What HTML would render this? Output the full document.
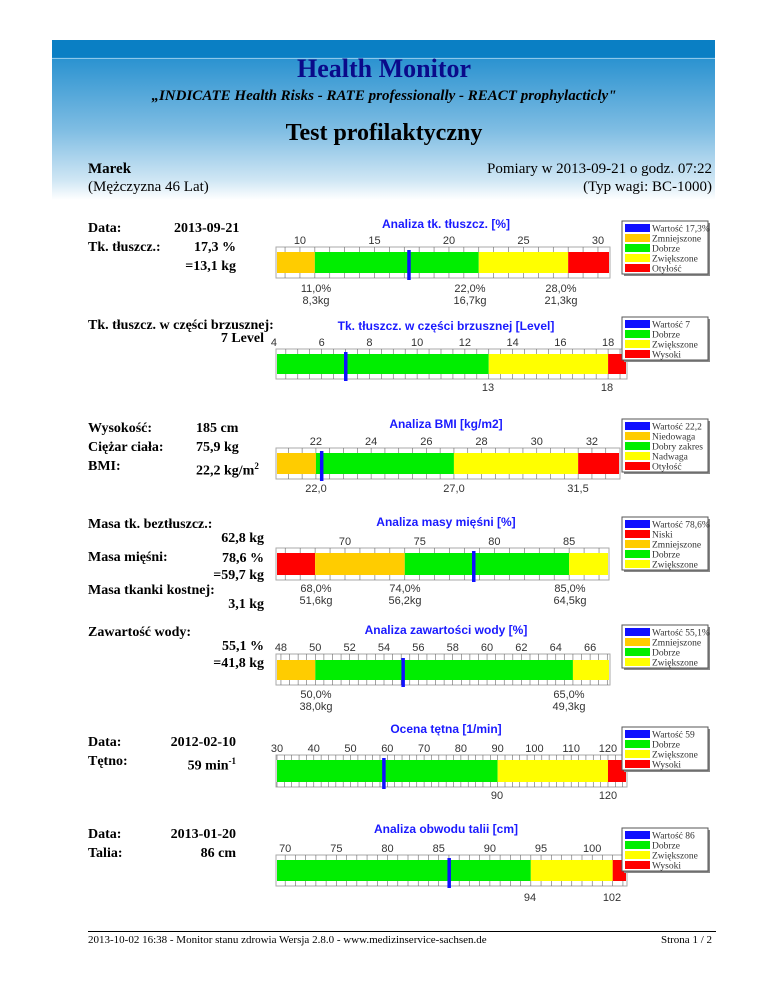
<!DOCTYPE html>
<html><head><meta charset="utf-8"><style>
body{margin:0;width:768px;height:994px;position:relative;background:#fff;font-family:"Liberation Serif",serif;overflow:hidden}
.a{position:absolute;white-space:nowrap}
.b{font-weight:bold;font-size:14px}
.n{font-size:14px}
svg{position:absolute;left:0;top:0}
</style></head><body>
<div class="a" style="left:52px;top:40px;width:663px;height:160px;background:linear-gradient(#0a7fc4 0,#0a7fc4 17px,#2a92d0 18px,#7fbde3 90px,#cfe6f4 140px,#fff 160px)"></div>
<div class="a" style="left:52px;top:58px;width:663px;height:1px;background:#8cc8ea"></div>
<div class="a b" style="left:0;width:768px;text-align:center;top:54px;font-size:26px;color:#0a0a8a">Health Monitor</div>
<div class="a" style="left:0;width:768px;text-align:center;top:88px;font-size:15px;font-weight:bold;font-style:italic">„INDICATE Health Risks - RATE professionally - REACT prophylacticly"</div>
<div class="a b" style="left:0;width:768px;text-align:center;top:120px;font-size:24px">Test profilaktyczny</div>
<div class="a b" style="left:88px;top:161px;font-size:15px">Marek</div>
<div class="a n" style="left:88px;top:179px;font-size:15px">(Mężczyzna 46 Lat)</div>
<div class="a n" style="right:56px;top:161px;font-size:15px">Pomiary w 2013-09-21 o godz. 07:22</div>
<div class="a n" style="right:56px;top:179px;font-size:15px">(Typ wagi: BC-1000)</div>

<div class="a b" style="left:88px;top:219px;line-height:19px">Data:<br>Tk. tłuszcz.:</div>
<div class="a b" style="left:174px;top:219px;text-align:right;width:62px;line-height:19px">2013-09-21<br>17,3 %<br>=13,1 kg</div>
<div class="a b" style="left:88px;top:318px">Tk. tłuszcz. w części brzusznej:</div>
<div class="a b" style="left:190px;top:331px;width:74px;text-align:right">7 Level</div>
<div class="a b" style="left:88px;top:419px;line-height:19px">Wysokość:<br>Ciężar ciała:<br>BMI:</div>
<div class="a b" style="left:196px;top:419px;line-height:19px">185 cm<br>75,9 kg<br>22,2 kg/m<sup style="font-size:9px">2</sup></div>
<div class="a b" style="left:88px;top:517px">Masa tk. beztłuszcz.:</div>
<div class="a b" style="left:190px;top:531px;width:74px;text-align:right">62,8 kg</div>
<div class="a b" style="left:88px;top:550px">Masa mięśni:</div>
<div class="a b" style="left:190px;top:550px;width:74px;text-align:right;line-height:17px">78,6 %<br>=59,7 kg</div>
<div class="a b" style="left:88px;top:583px">Masa tkanki kostnej:</div>
<div class="a b" style="left:190px;top:597px;width:74px;text-align:right">3,1 kg</div>
<div class="a b" style="left:88px;top:625px">Zawartość wody:</div>
<div class="a b" style="left:190px;top:638px;width:74px;text-align:right;line-height:17px">55,1 %<br>=41,8 kg</div>
<div class="a b" style="left:88px;top:733px;line-height:19px">Data:<br>Tętno:</div>
<div class="a b" style="left:150px;top:733px;width:86px;text-align:right;line-height:19px">2012-02-10<br>59 min<sup style="font-size:9px">-1</sup></div>
<div class="a b" style="left:88px;top:825px;line-height:19px">Data:<br>Talia:</div>
<div class="a b" style="left:150px;top:825px;width:86px;text-align:right;line-height:19px">2013-01-20<br>86 cm</div>

<div class="a" style="left:88px;top:931px;width:628px;height:1px;background:#000"></div>
<div class="a" style="left:88px;top:934px;font-size:11px">2013-10-02 16:38 - Monitor stanu zdrowia Wersja 2.8.0 - www.medizinservice-sachsen.de</div>
<div class="a" style="right:56px;top:934px;font-size:11px">Strona 1 / 2</div>

<svg id="s" width="768" height="994" xmlns="http://www.w3.org/2000/svg"></svg>
<script>
var C={o:'#ffcc00',g:'#00ee00',y:'#ffff00',r:'#ff0000'};
var charts=[
{t:'Analiza tk. tłuszcz. [%]',ty:218,top:247,by:252,bh:21,x1:277,x2:609,min:8.46,max:30.74,maj:[10,15,20,25,30],minor:1,
 seg:[[11,'o'],[22,'g'],[28,'y'],[99,'r']],v:17.3,below:[['11,0%','8,3kg',316],['22,0%','16,7kg',470],['28,0%','21,3kg',561]],bly:282,
 lg:{y:221,items:[['Wartość 17,3%','b'],['Zmniejszone','o'],['Dobrze','g'],['Zwiększone','y'],['Otyłość','r']]}},
{t:'Tk. tłuszcz. w części brzusznej [Level]',ty:320,top:349,by:354,bh:20,x1:277,x2:626,min:4.13,max:18.75,maj:[4,6,8,10,12,14,16,18],minor:0.5,
 seg:[[13,'g'],[18,'y'],[99,'r']],v:7,below:[['13','',488],['18','',607]],bly:381,
 lg:{y:317,items:[['Wartość 7','b'],['Dobrze','g'],['Zwiększone','y'],['Wysoki','r']]}},
{t:'Analiza BMI [kg/m2]',ty:418,top:448,by:453,bh:21,x1:277,x2:619,min:20.59,max:32.98,maj:[22,24,26,28,30,32],minor:0.5,
 seg:[[22,'o'],[27,'g'],[31.5,'y'],[99,'r']],v:22.2,below:[['22,0','',316],['27,0','',454],['31,5','',578]],bly:482,
 lg:{y:419,items:[['Wartość 22,2','b'],['Niedowaga','o'],['Dobry zakres','g'],['Nadwaga','y'],['Otyłość','r']]}},
{t:'Analiza masy mięśni [%]',ty:516,top:548,by:553,bh:22,x1:277,x2:608,min:65.45,max:87.6,maj:[70,75,80,85],minor:1,
 seg:[[68,'r'],[74,'o'],[85,'g'],[99,'y']],v:78.6,below:[['68,0%','51,6kg',316],['74,0%','56,2kg',405],['85,0%','64,5kg',570]],bly:582,
 lg:{y:517,items:[['Wartość 78,6%','b'],['Niski','r'],['Zmniejszone','o'],['Dobrze','g'],['Zwiększone','y']]}},
{t:'Analiza zawartości wody [%]',ty:624,top:654,by:660,bh:20,x1:277,x2:609,min:47.77,max:67.1,maj:[48,50,52,54,56,58,60,62,64,66],minor:0.5,
 seg:[[50,'o'],[65,'g'],[99,'y']],v:55.1,below:[['50,0%','38,0kg',316],['65,0%','49,3kg',569]],bly:688,
 lg:{y:625,items:[['Wartość 55,1%','b'],['Zmniejszone','o'],['Dobrze','g'],['Zwiększone','y']]}},
{t:'Ocena tętna [1/min]',ty:723,top:755,by:760,bh:22,x1:277,x2:626,min:30,max:124.9,maj:[30,40,50,60,70,80,90,100,110,120],minor:2,
 seg:[[90,'g'],[120,'y'],[999,'r']],v:59,below:[['90','',497],['120','',608]],bly:789,
 lg:{y:727,items:[['Wartość 59','b'],['Dobrze','g'],['Zwiększone','y'],['Wysoki','r']]}},
{t:'Analiza obwodu talii [cm]',ty:823,top:855,by:860,bh:21,x1:277,x2:626,min:69.2,max:103.3,maj:[70,75,80,85,90,95,100],minor:1,
 seg:[[94,'g'],[102,'y'],[999,'r']],v:86,below:[['94','',530],['102','',612]],bly:891,
 lg:{y:828,items:[['Wartość 86','b'],['Dobrze','g'],['Zwiększone','y'],['Wysoki','r']]}}
];
var h='';
charts.forEach(function(c){
 var X=function(v){return c.x1+(v-c.min)/(c.max-c.min)*(c.x2-c.x1)};
 h+='<text x="446" y="'+(c.ty+10)+'" text-anchor="middle" font-family="Liberation Sans" font-weight="bold" font-size="12" fill="#1a1aff">'+c.t+'</text>';
 c.maj.forEach(function(m){h+='<text x="'+X(m)+'" y="'+(c.top-3)+'" text-anchor="middle" font-family="Liberation Sans" font-size="11" fill="#333">'+m+'</text>'});
 var bot=c.by+c.bh+5;
 h+='<rect x="'+(c.x1-1)+'" y="'+c.top+'" width="'+(c.x2-c.x1+2)+'" height="'+(bot-c.top)+'" fill="#fff" stroke="#aaa"/>';
 for(var v=Math.ceil(c.min/c.minor)*c.minor;v<=c.max;v+=c.minor){var x=X(v);
  h+='<line x1="'+x+'" x2="'+x+'" y1="'+c.top+'" y2="'+c.by+'" stroke="#666" stroke-width="0.6"/><line x1="'+x+'" x2="'+x+'" y1="'+(c.by+c.bh)+'" y2="'+bot+'" stroke="#666" stroke-width="0.6"/>';}
 var p=c.min;c.seg.forEach(function(s){var e=Math.min(s[0],c.max);h+='<rect x="'+X(p)+'" y="'+c.by+'" width="'+(X(e)-X(p))+'" height="'+c.bh+'" fill="'+C[s[1]]+'"/>';p=e;});
 h+='<rect x="'+(X(c.v)-1.5)+'" y="'+(c.by-2)+'" width="3.5" height="'+(c.bh+9)+'" fill="#1010ff"/>';
 c.below.forEach(function(b){h+='<text x="'+b[2]+'" y="'+(c.bly+10)+'" text-anchor="middle" font-family="Liberation Sans" font-size="11" fill="#333">'+b[0]+'</text>';
  if(b[1])h+='<text x="'+b[2]+'" y="'+(c.bly+22)+'" text-anchor="middle" font-family="Liberation Sans" font-size="11" fill="#333">'+b[1]+'</text>';});
 var n=c.lg.items.length,lh=n*10+3;
 h+='<rect x="624" y="'+(c.lg.y+2)+'" width="86" height="'+lh+'" fill="#888"/><rect x="622" y="'+c.lg.y+'" width="86" height="'+lh+'" fill="#fff" stroke="#555"/>';
 c.lg.items.forEach(function(it,i){var yy=c.lg.y+2+i*10;h+='<rect x="625" y="'+(yy+1)+'" width="25" height="8" fill="'+(it[1]=='b'?'#1010ff':C[it[1]])+'"/><text x="652" y="'+(yy+8.5)+'" font-family="Liberation Serif" font-size="9.5" fill="#333">'+it[0]+'</text>';});
});
document.getElementById('s').innerHTML=h;
</script>
</body></html>
